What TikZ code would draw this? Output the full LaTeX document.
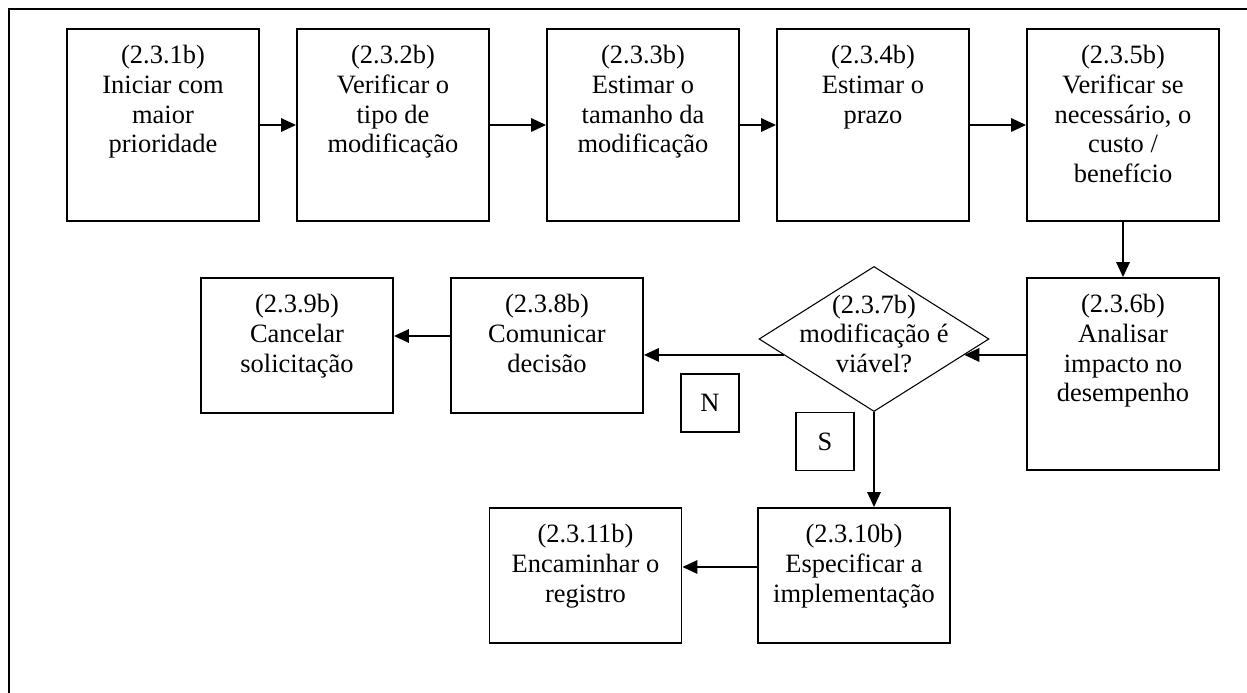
\documentclass[tikz,border=0pt]{standalone}
\usepackage{fontspec}
\setmainfont{Liberation Serif}
\usetikzlibrary{arrows.meta,shapes.geometric,calc}
\newcommand{\bxt}[2]{\parbox[c][#1][t]{88pt}{\centering\rule{0pt}{16.4pt}#2}}
\begin{document}
\begin{tikzpicture}[x=0.46875pt,y=-0.46875pt,
  every node/.style={font=\fontsize{12.4}{13.9}\selectfont},
  tallbox/.style={draw, line width=0.9pt, inner sep=0pt, minimum width=90pt, minimum height=90pt},
  shortbox/.style={draw, line width=0.9pt, inner sep=0pt, minimum width=90pt, minimum height=63.3pt},
  tagbox/.style={draw, line width=0.8pt, inner sep=0pt, minimum size=27.2pt},
  decision/.style={draw, diamond, line width=0.5pt, inner sep=0pt, minimum width=107.8pt, minimum height=68pt},
  arr/.style={line width=0.8pt, -{Triangle[length=7pt,width=6.3pt]}}]
\useasboundingbox (0,0) rectangle (1247,693);
% frame (only top and left edges visible)
\draw[line width=0.9pt] (9,693) -- (9,9) -- (1247,9);
% row 1
\node[tallbox] (b1) at (163,125) {\bxt{90pt}{(2.3.1b)\\Iniciar com\\maior\\prioridade}};
\node[tallbox] (b2) at (393,125) {\bxt{90pt}{(2.3.2b)\\Verificar o\\tipo de\\modificação}};
\node[tallbox] (b3) at (643,125) {\bxt{90pt}{(2.3.3b)\\Estimar o\\tamanho da\\modificação}};
\node[tallbox] (b4) at (873,125) {\bxt{90pt}{(2.3.4b)\\Estimar o\\prazo}};
\node[tallbox] (b5) at (1123,125) {\bxt{90pt}{(2.3.5b)\\Verificar se\\necessário, o\\custo /\\benefício}};
% row 2
\node[tallbox] (b6) at (1123,374) {\bxt{90pt}{(2.3.6b)\\Analisar\\impacto no\\desempenho}};
\node[decision] (d) at (874,339) {};
\node[anchor=base] (dt) at ($(d.center)+(0,-26)$) {\parbox[t]{100pt}{\centering (2.3.7b)\\modificação é\\viável?}};
\node[shortbox] (b8) at (547,345.5) {\bxt{63.3pt}{(2.3.8b)\\Comunicar\\decisão}};
\node[shortbox] (b9) at (297,345.5) {\bxt{63.3pt}{(2.3.9b)\\Cancelar\\solicitação}};
\node[tagbox] (n) at (710,403) {N};
\node[tagbox] (s) at (825,441.5) {S};
% row 3
\node[shortbox] (b10) at (854,575.5) {\bxt{63.3pt}{(2.3.10b)\\Especificar a\\implementação}};
\node[shortbox] (b11) at (585.5,575.5) {\bxt{63.3pt}{(2.3.11b)\\Encaminhar o\\registro}};
% connectors
\draw[arr] (b1.east) -- (b2.west);
\draw[arr] (b2.east) -- (b3.west);
\draw[arr] (b3.east) -- (b4.west);
\draw[arr] (b4.east) -- (b5.west);
\draw[arr] (b5.south) -- (b6.north);
\draw[arr] (b6.west |- d.-10) -- (d.-10);
\draw[arr] (d.190) -- (d.190 -| b8.east);
\coordinate (p) at ($(b8.west)+(0,-9.5)$);
\draw[arr] (p) -- (p -| b9.east);
\draw[arr] (d.south) -- (d.south |- b10.north);
\coordinate (q) at ($(b10.west)+(0,-8.5)$);
\draw[arr] (q) -- (q -| b11.east);
\end{tikzpicture}
\end{document}
